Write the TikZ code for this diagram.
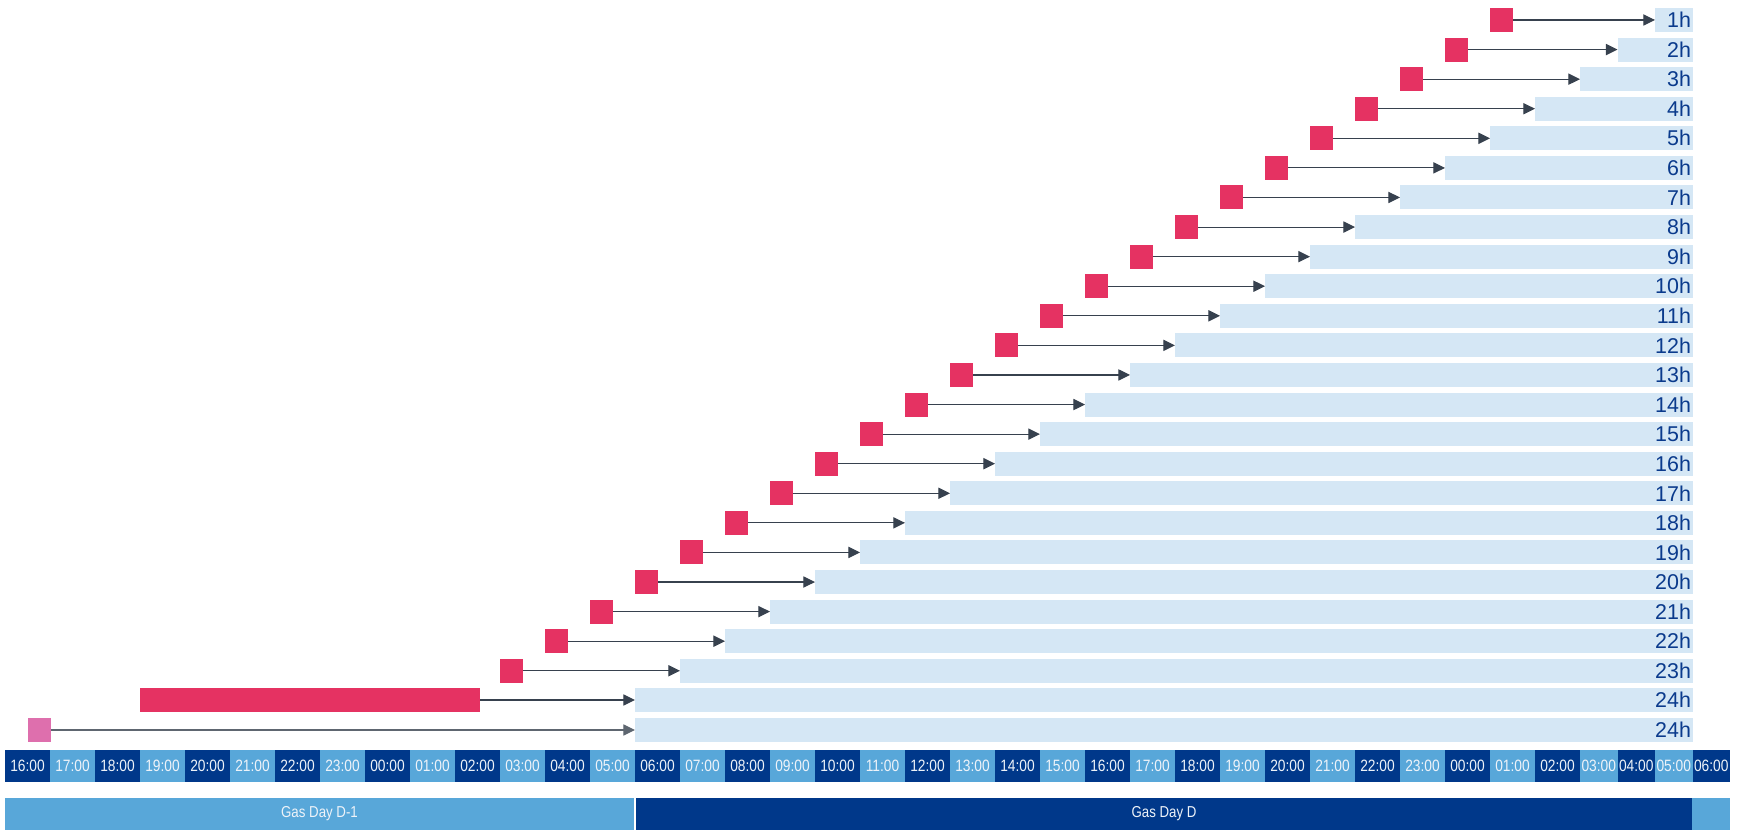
\documentclass[tikz,border=0pt]{standalone}
\usepackage{fontspec}
\setmainfont{Liberation Sans}
\newfontfamily\tickfont[FakeStretch=0.84]{Liberation Sans}
\usetikzlibrary{positioning,arrows.meta}
\definecolor{dayDark}{HTML}{00388A}
\definecolor{dayMid}{HTML}{58A7D9}
\definecolor{barLight}{HTML}{D5E7F5}
\definecolor{nomRed}{HTML}{E53262}
\definecolor{nomPink}{HTML}{DE6FAD}
\definecolor{lineDark}{HTML}{37414E}
\definecolor{lineGrey}{HTML}{5E6670}
\definecolor{textHour}{HTML}{0A3A8C}
\definecolor{textTick}{HTML}{EEF3F9}
\tikzset{
  hourbar/.style ={fill=barLight,draw=none,inner sep=0pt,outer sep=0pt,
                   minimum height=12pt,anchor=west},
  hourlabel/.style={anchor=east,inner sep=0.6pt,text=textHour,
                   font=\fontsize{10.7pt}{12pt}\selectfont},
  nomsq/.style   ={fill=nomRed,draw=none,inner sep=0pt,outer sep=0pt,
                   minimum width=11.5pt,minimum height=12pt,anchor=west},
  nomarrow/.style={draw=lineDark,line width=0.55pt,
                   -{Triangle[length=5.8pt,width=5.6pt]}},
  tickcell/.style={draw=none,inner sep=0pt,outer sep=0pt,anchor=west,
                   minimum height=16pt,text=textTick,
                   font=\tickfont\fontsize{8.2pt}{9pt}\selectfont},
  gasbar/.style  ={draw=none,inner sep=0pt,outer sep=0pt,anchor=west,
                   minimum height=16pt,text=textTick,
                   font=\tickfont\fontsize{7.9pt}{9pt}\selectfont},
}

\begin{document}
\begin{tikzpicture}[x=0.5pt,y=-0.5pt]
  \useasboundingbox (0,0) rectangle (1738,833);
  \foreach \n in {1,...,23}{
    \pgfmathsetmacro{\yc}{20+29.58*(\n-1)}
    \pgfmathsetmacro{\xq}{5+45*(34-\n)}
    \pgfmathsetmacro{\xb}{(38-\n)<=35 ? 5+45*(38-\n) : 1580+37.5*(3-\n)}
    \node[hourbar,minimum width={(1692.5-\xb)*0.5pt}] (bar\n) at (\xb,\yc) {};
    \node[hourlabel] (lab\n) at (bar\n.east) {\n h};
    \node[nomsq] (sq\n) at (\xq,\yc) {};
    \draw[nomarrow] (sq\n) -- (bar\n);
  }
  \node[hourbar,minimum width={(1692.5-635)*0.5pt}] (bar24) at (635,700) {};
  \node[hourlabel] (lab24) at (bar24.east) {24h};
  \node[nomsq,minimum width={(480-140)*0.5pt}] (sq24) at (140,700) {};
  \draw[nomarrow] (sq24) -- (bar24);
  \node[hourbar,minimum width={(1692.5-635)*0.5pt}] (bar25) at (635,730) {};
  \node[hourlabel] (lab25) at (bar25.east) {24h};
  \node[nomsq,fill=nomPink] (sq25) at (27.5,730) {};
  \draw[nomarrow,draw=lineGrey] (sq25) -- (bar25);
  \foreach \t [count=\i from 0] in {16:00,17:00,18:00,19:00,20:00,21:00,22:00,
      23:00,00:00,01:00,02:00,03:00,04:00,05:00,06:00,07:00,08:00,09:00,10:00,
      11:00,12:00,13:00,14:00,15:00,16:00,17:00,18:00,19:00,20:00,21:00,22:00,
      23:00,00:00,01:00,02:00,03:00,04:00,05:00,06:00}{
    \pgfmathsetmacro{\xa}{\i<=35 ? 5+45*\i : 1580+37.5*(\i-35)}
    \pgfmathsetmacro{\w}{\i<35 ? 45 : 37.5}
    \pgfmathtruncatemacro{\odd}{mod(\i,2)}
    \ifnum\odd=0 \def\cc{dayDark}\else\def\cc{dayMid}\fi
    \node[tickcell,fill=\cc,minimum width={\w*0.5pt}] (t\i) at (\xa,766) {\t};
  }
  \node[gasbar,fill=dayMid,minimum width={629*0.5pt}] (gasA) at (5,814) {Gas Day D-1};
  \node[gasbar,fill=dayDark,minimum width={1056*0.5pt}] (gasB) at (636,814) {Gas Day D};
  \node[gasbar,fill=dayMid,minimum width={38*0.5pt}] (gasC) at (1692,814) {};
\end{tikzpicture}
\end{document}
